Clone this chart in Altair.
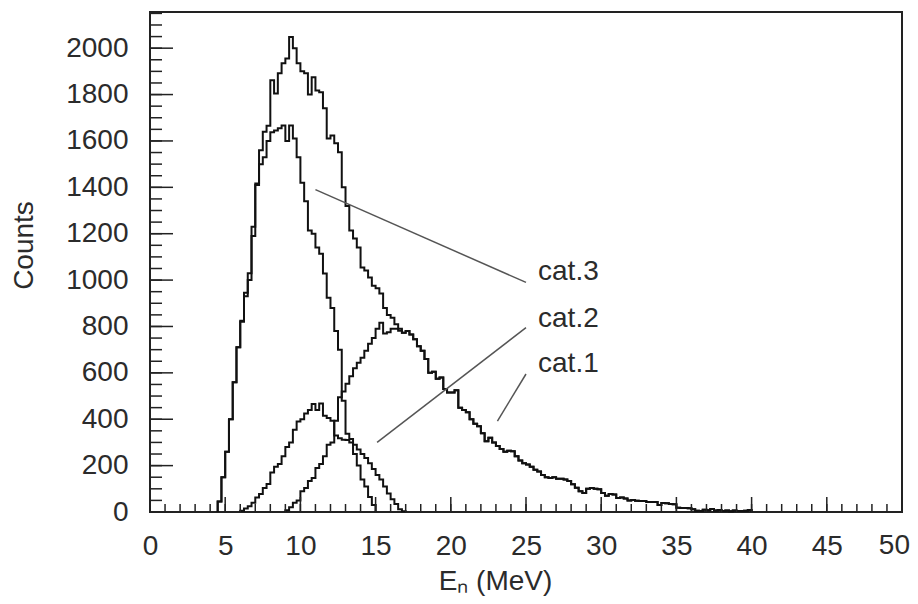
import altair as alt
import pandas as pd

# ---------------- data ----------------
BIN = 0.25  # MeV per histogram bin

TOTAL_START = 4.5
total = [45, 150, 260, 400, 560, 710, 825, 945, 1030, 1230,
         1417, 1560, 1640, 1665, 1862, 1805, 1892, 1935, 1955, 2048,
         2000, 1935, 1900, 1892, 1800, 1875, 1818, 1810, 1741, 1610,
         1624, 1590, 1551, 1400, 1320, 1214, 1179, 1140, 1054, 1041,
         1011, 976, 965, 942, 880, 850, 838, 810, 790, 773,
         780, 765, 745, 715, 695, 660, 600, 605, 575, 580,
         530, 515, 515, 525, 450, 440, 430, 400, 380, 370,
         340, 305, 320, 300, 285, 272, 260, 264, 262, 240,
         222, 210, 205, 195, 182, 175, 160, 150, 147, 150,
         143, 143, 140, 134, 120, 105, 90, 82, 100, 104,
         100, 98, 82, 70, 78, 75, 60, 62, 58, 50,
         52, 48, 47, 47, 43, 43, 43, 30, 39, 38,
         35, 33, 18, 17, 17, 16, 12, 5, 4, 10,
         8, 13, 6, 9, 4, 6, 3, 7, 4, 4,
         5, 9]

CAT3_START = 4.5
cat3 = [45, 150, 260, 400, 560, 710, 820, 930, 1000, 1190,
        1410, 1500, 1530, 1600, 1637, 1645, 1655, 1667, 1600, 1667,
        1610, 1530, 1420, 1340, 1214, 1200, 1140, 1114, 1028, 924,
        880, 780, 700, 480, 337, 315, 250, 200, 140, 110,
        65, 30]

CAT2_START = 6.0
cat2 = [5, 15, 25, 40, 62, 78, 104, 121, 170, 195,
        207, 240, 280, 300, 355, 390, 400, 425, 440, 466,
        440, 468, 415, 405, 393, 330, 318, 312, 310, 300,
        290, 270, 250, 233, 210, 185, 160, 140, 110, 80,
        55, 35, 12, 3]

CAT1_START = 9.0
cat1_rise = [8, 20, 40, 50, 90, 104, 134, 147, 190, 207,
             240, 290, 300, 393, 495, 520, 553, 585, 620, 644,
             665, 695, 726, 750, 790, 816, 770, 775, 790, 790,
             782]
# from 16.75 MeV on, cat.1 is the only component: its outline is the total's
CAT1_TAIL_FROM = 16.75

x_major = [0, 5, 10, 15, 20, 25, 30, 35, 40, 45, 50]
x_minor = list(range(0, 51))
y_major = [0, 200, 400, 600, 800, 1000, 1200, 1400, 1600, 1800, 2000]
y_minor = list(range(0, 2151, 50))

ann_label = ["cat.3", "cat.2", "cat.1"]
ann_from_E = [11.0, 15.1, 23.1]
ann_from_N = [1390, 300, 392]
ann_to_E = [25.0, 25.0, 25.0]
ann_to_N = [990, 795, 595]
label_E = [25.8, 25.8, 25.8]
label_N = [1034, 832, 638]

# ---------------- build tables ----------------
i_tail = int(round((CAT1_TAIL_FROM - TOTAL_START) / BIN))
cat1 = cat1_rise + total[i_tail:]


def outline(name, start, vals):
    rows = [{"series": name, "E": start, "count": 0}]
    for i, v in enumerate(vals):
        rows.append({"series": name, "E": start + i * BIN, "count": v})
    rows.append({"series": name, "E": start + len(vals) * BIN, "count": 0})
    for k, r in enumerate(rows):
        r["order"] = k
    return rows


hist = pd.DataFrame(
    outline("total", TOTAL_START, total)
    + outline("cat.3", CAT3_START, cat3)
    + outline("cat.2", CAT2_START, cat2)
    + outline("cat.1", CAT1_START, cat1)
)

FONT = "Liberation Sans"
INK = "#2b2b2b"
W, H = 752, 500
LABEL_PAD = 20

xscale = alt.Scale(domain=[0, 50], nice=False, zero=False)
yscale = alt.Scale(domain=[0, 2156], nice=False, zero=True)

lines = alt.Chart(hist).mark_line(
    interpolate="step-after", color="#111", strokeWidth=2
).encode(
    x=alt.X("E:Q", scale=xscale, axis=alt.Axis(
        values=x_major[:-1], format="d", ticks=False, domain=False, grid=False,
        labelFontSize=28, labelFont=FONT, labelColor=INK, labelPadding=LABEL_PAD,
        labelFlush=False, labelOverlap=False, labelBound=False,
        title="Eₙ (MeV)", titleFontSize=28, titleFont=FONT, titleColor=INK,
        titleFontWeight="normal", titleX=345, titleY=69,
        titleAlign="center", titleBaseline="middle")),
    y=alt.Y("count:Q", scale=yscale, axis=alt.Axis(
        values=y_major, format="d", ticks=False, domain=False, grid=False,
        labelFontSize=28, labelFont=FONT, labelColor=INK, labelPadding=22,
        labelOverlap=False,
        title="Counts", titleFontSize=28, titleFont=FONT, titleColor=INK,
        titleFontWeight="normal", titleX=-126, titleY=233, titleAngle=270,
        titleAlign="center", titleBaseline="middle")),
    detail="series:N",
    order="order:Q",
)

# last x tick label, kept inside the page's right edge
last_label = alt.Chart(pd.DataFrame({"E": x_major[-1:], "lab": [str(x_major[-1])]})).mark_text(
    align="right", baseline="top", dx=8, fontSize=28, font=FONT, color=INK
).encode(x="E:Q", y=alt.value(H + LABEL_PAD), text="lab:N")

tick_style = dict(color="#222", strokeWidth=1.5)
xt_major = alt.Chart(pd.DataFrame({"E": x_major})).mark_rule(**tick_style).encode(
    x="E:Q", y=alt.value(H), y2=alt.value(H - 15))
xt_minor = alt.Chart(pd.DataFrame({"E": x_minor})).mark_rule(**tick_style).encode(
    x="E:Q", y=alt.value(H), y2=alt.value(H - 8))
yt_major = alt.Chart(pd.DataFrame({"count": y_major})).mark_rule(**tick_style).encode(
    y="count:Q", x=alt.value(0), x2=alt.value(23))
yt_minor = alt.Chart(pd.DataFrame({"count": y_minor})).mark_rule(**tick_style).encode(
    y="count:Q", x=alt.value(0), x2=alt.value(12))

ann = pd.DataFrame({"label": ann_label, "E": ann_from_E, "count": ann_from_N,
                    "E2": ann_to_E, "count2": ann_to_N})
ann_rules = alt.Chart(ann).mark_rule(color="#555", strokeWidth=1.5).encode(
    x="E:Q", y="count:Q", x2="E2:Q", y2="count2:Q")

labels = alt.Chart(pd.DataFrame({"label": ann_label, "E": label_E, "count": label_N})).mark_text(
    align="left", baseline="middle", fontSize=28, font=FONT, color=INK
).encode(x="E:Q", y="count:Q", text="label:N")

chart = alt.layer(
    lines, xt_major, xt_minor, yt_major, yt_minor, ann_rules, labels, last_label
).properties(
    width=W, height=H,
    padding={"left": 142, "top": 4, "right": 8, "bottom": 84},
    autosize=alt.AutoSizeParams(type="none"),
    background="white",
).configure_view(stroke="#222", strokeWidth=2)

chart.save("out.html", embed_options={"renderer": "svg", "actions": False})
